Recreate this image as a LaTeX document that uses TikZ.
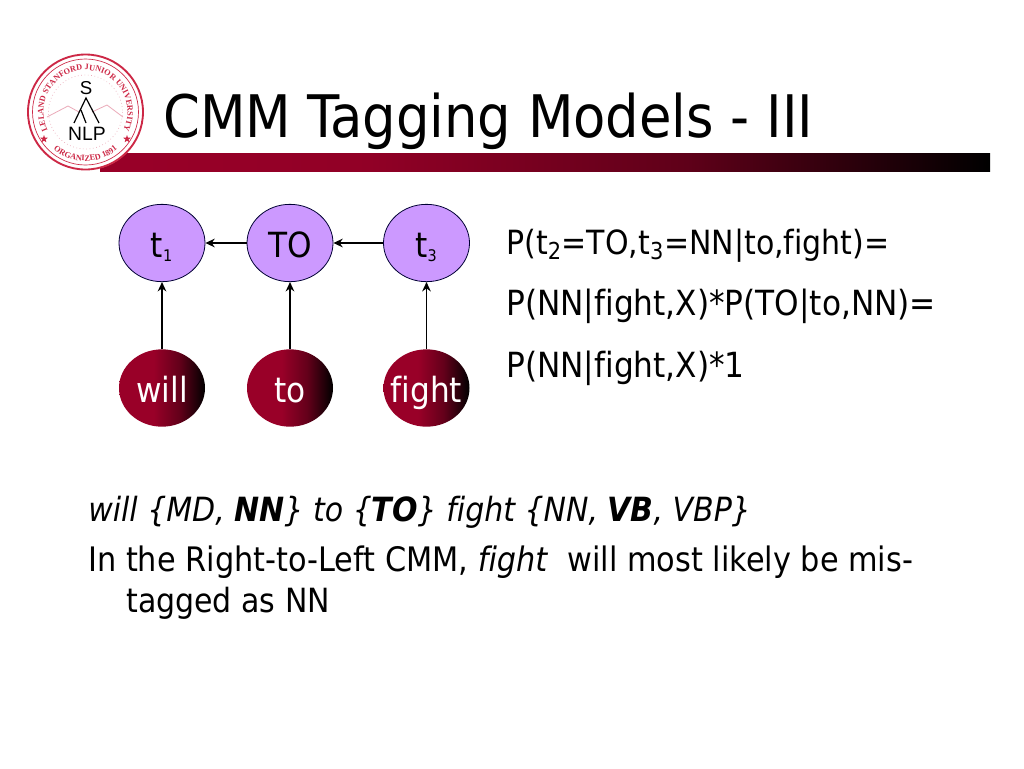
\documentclass[tikz,border=0pt]{standalone}
\usepackage{fontspec}
\setmainfont{DejaVu Sans Condensed}[Ligatures=NoCommon]
\newfontfamily\sealfont{Liberation Serif}
\newfontfamily\nlpfont{Liberation Sans}
\usetikzlibrary{shapes.geometric, arrows.meta, decorations.text}
\definecolor{wine}{RGB}{153,0,40}
\definecolor{lilac}{RGB}{204,153,255}
\definecolor{seal}{RGB}{205,40,70}
\definecolor{sealpale}{RGB}{235,170,185}
\pgfdeclarehorizontalshading{barfade}{100bp}{color(0bp)=(wine); color(25bp)=(wine); color(40bp)=(wine!95!black); color(58bp)=(wine!62!black); color(75bp)=(black); color(100bp)=(black)}
\pgfdeclarehorizontalshading{wordfade}{100bp}{color(0bp)=(wine); color(25bp)=(wine); color(45bp)=(wine); color(60bp)=(wine!65!black); color(75bp)=(black); color(100bp)=(black)}
\tikzset{
    roundnode/.style={ellipse, minimum width=64.5pt, minimum height=58pt, inner xsep=-10pt, inner ysep=0pt, text height=22pt, text depth=1pt, font=\fontsize{26}{26}\selectfont},
    tagnode/.style={roundnode, draw=black!80!blue, line width=0.6pt, fill=lilac},
    wordnode/.style={roundnode, shading=wordfade, text=white},
    link/.style={-{Stealth[length=7pt,width=6.5pt]}, line width=1.1pt},
    bodytext/.style={anchor=base west, inner sep=0pt, font=\fontsize{25}{25}\selectfont},
    sealstar/.style={star, star points=5, star point ratio=2.4, fill=seal, minimum size=6pt, inner sep=0pt},
    sealtext/.style={decorate, decoration={text along path, text align=center, text={|\sealfont\bfseries\fontsize{6.2}{6.2}\selectfont\color{seal}|#1}}},
}
\begin{document}
\begin{tikzpicture}[x=0.75pt,y=-0.75pt]
    \useasboundingbox (0,0) rectangle (1024,768);
    % title bar
    \shade[shading=barfade] (100,153) rectangle (990,171);
    \node[anchor=base west, inner sep=0pt, font=\fontsize{44}{44}\selectfont] (title) at (163,137) {CMM Tagging Models - III};

    % seal
    \fill[white] (85.5,112) circle (58);
    \draw[seal, line width=1.4pt] (85.5,112) circle (57.5);
    \draw[seal, line width=0.5pt] (85.5,112) circle (53);
    \draw[sealpale, line width=0.5pt, dotted] (85.5,112) circle (37);
    \path[sealtext={LELAND STANFORD JUNIOR UNIVERSITY}]
        (85.5,112) ++(-210:42) arc[start angle=-210, end angle=30, radius=42];
    \path[sealtext={ORGANIZED 1891}]
        (85.5,112) ++(138:49) arc[start angle=138, end angle=42, radius=49];
    \node[sealstar] (starl) at (44,139) {};
    \node[sealstar] (starr) at (127,139) {};
    \draw[sealpale, line width=0.6pt] (47,117) -- (68,106) -- (79,112);
    \draw[sealpale, line width=0.6pt] (92,112) -- (107,105) -- (123,117);
    \draw[black, line width=0.9pt] (74,123) -- (86,98) -- (99,123);
    \draw[black, line width=0.9pt] (81,110) -- (86,123);
    \node[inner sep=0pt, font=\nlpfont\fontsize{14}{14}\selectfont] (sealS) at (86,88) {S};
    \node[inner sep=0pt, font=\nlpfont\fontsize{14.5}{14.5}\selectfont] (sealNLP) at (87,134) {NLP};

    % tag nodes and word nodes
    \node[tagnode] (t1) at (162,243) {t\textsubscript{\fontsize{12}{12}\selectfont 1}};
    \node[tagnode] (t2) at (290,243) {TO};
    \node[tagnode] (t3) at (426.5,243) {t\textsubscript{\fontsize{12}{12}\selectfont 3}};
    \node[wordnode] (w1) at (162,388) {will};
    \node[wordnode] (w2) at (290,388) {to};
    \node[wordnode] (w3) at (426.5,388) {fight};

    % links
    \foreach \a/\b in {w1/t1,w2/t2,w3/t3,t2/t1,t3/t2}{
        \draw[link] (\a) -- (\b);
    }

    % equations on right
    \node[bodytext] (eqa) at (506,254) {P(t\textsubscript{2}=TO,t\textsubscript{3}=NN|to,fight)=};
    \node[bodytext, font=\fontsize{26}{26}\selectfont] (eqb) at (506,315) {P(NN|fight,X)*P(TO|to,NN)=};
    \node[bodytext, font=\fontsize{26}{26}\selectfont] (eqc) at (506,377) {P(NN|fight,X)*1};

    % text below
    \node[bodytext] (cand) at (88,521) {\itshape will \{MD, \textbf{NN}\} to \{\textbf{TO}\} fight \{NN, \textbf{VB}, VBP\}};
    \node[bodytext, font=\fontsize{25.3}{25.3}\selectfont] (linea) at (88,571) {In the Right-to-Left CMM, \textit{fight}\ \ will most likely be mis-};
    \node[bodytext] (lineb) at (126,612) {tagged as NN};
\end{tikzpicture}
\end{document}
